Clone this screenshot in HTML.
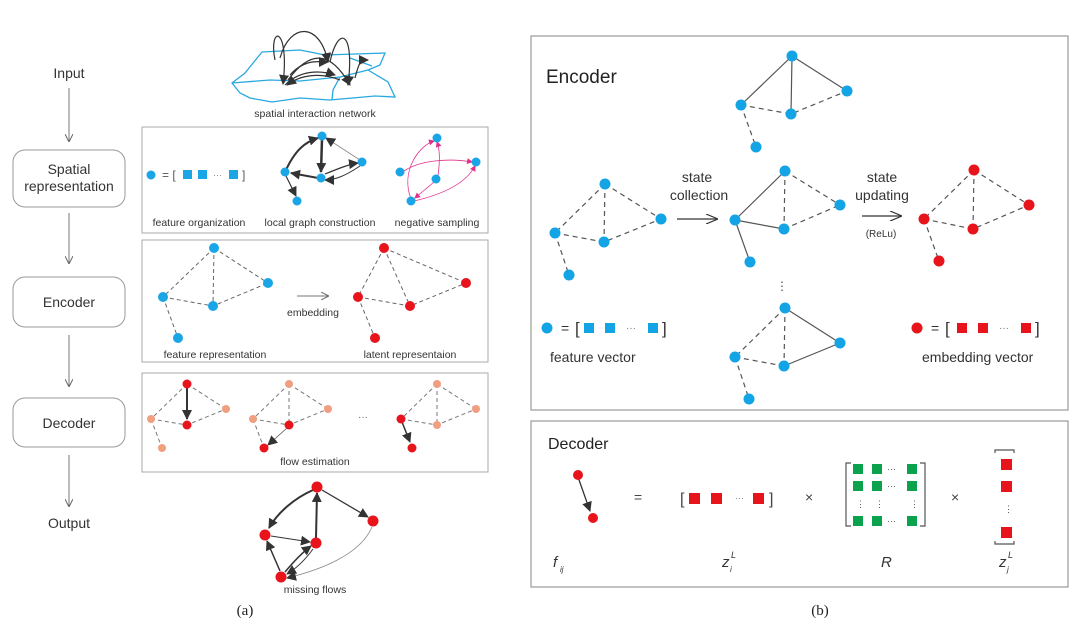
<!DOCTYPE html>
<html><head><meta charset="utf-8"><style>
html,body{margin:0;padding:0;background:#fff}
svg{display:block;font-family:"Liberation Sans",sans-serif}
</style></head><body>
<svg width="1080" height="630" viewBox="0 0 1080 630" xmlns="http://www.w3.org/2000/svg">
<defs>
<marker id="ag" markerWidth="8" markerHeight="8" refX="7" refY="4" orient="auto" markerUnits="userSpaceOnUse"><path d="M0,0 L8,4 L0,8" fill="none" stroke="#666" stroke-width="1"/></marker>
<marker id="ad" markerWidth="10" markerHeight="10" refX="9" refY="5" orient="auto" markerUnits="userSpaceOnUse"><path d="M0,0 L10,5 L0,10 Z" fill="#333"/></marker>
<marker id="ap" markerWidth="6" markerHeight="6" refX="5" refY="3" orient="auto" markerUnits="userSpaceOnUse"><path d="M0,0 L6,3 L0,6 Z" fill="#e0308a"/></marker>
<marker id="ao" markerWidth="12" markerHeight="10" refX="11" refY="5" orient="auto" markerUnits="userSpaceOnUse"><path d="M0,0 L12,5 L0,10" fill="none" stroke="#333" stroke-width="1.2"/></marker>
</defs>
<!-- left flow -->
<g font-size="14" fill="#333" text-anchor="middle">
<text x="69" y="78">Input</text>
<text x="69" y="528">Output</text>
<rect x="13" y="150" width="112" height="57" rx="12" fill="none" stroke="#999"/>
<text x="69" y="174">Spatial</text><text x="69" y="191">representation</text>
<rect x="13" y="277" width="112" height="50" rx="12" fill="none" stroke="#999"/>
<text x="69" y="307">Encoder</text>
<rect x="13" y="398" width="112" height="49" rx="12" fill="none" stroke="#999"/>
<text x="69" y="428">Decoder</text>
</g>
<g stroke="#777" stroke-width="1" marker-end="url(#ag)">
<line x1="69" y1="88" x2="69" y2="141"/><line x1="69" y1="213" x2="69" y2="263"/>
<line x1="69" y1="335" x2="69" y2="386"/><line x1="69" y1="455" x2="69" y2="506"/>
</g>
<!-- spatial interaction network -->
<g fill="none" stroke="#29a8e0" stroke-width="1.3">
<path d="M262,52 L300,50 L325,55 L385,53 L380,65 L368,70 L388,82 L395,97 L375,96 L330,100 L300,98 L272,102 L250,98 L240,93 L232,83 L245,73 Z"/>
<path d="M232,83 L270,80 L300,81 L340,77 L368,70"/>
<path d="M340,77 L333,90 L332,100"/>
<path d="M350,58 L372,66"/>
</g>
<g fill="none" stroke="#333" stroke-width="1.2" marker-end="url(#ad)">
<path d="M275,60 C268,25 290,25 283,84"/>
<path d="M280,58 C290,22 320,22 328,62"/>
<path d="M330,62 C338,25 355,30 348,85"/>
<path d="M288,80 C310,50 330,50 350,85"/>
<path d="M285,85 C300,70 320,70 335,75"/>
<path d="M290,75 C305,58 320,62 328,62"/>
<path d="M355,78 C360,58 362,60 368,60"/>
<path d="M340,80 C320,72 300,75 287,85"/>
</g>
<text x="315" y="117" font-size="10.5" fill="#333" text-anchor="middle">spatial interaction network</text>
<!-- panel 1 -->
<rect x="142" y="127" width="346" height="106" fill="none" stroke="#aaa"/>
<circle cx="151" cy="175" r="4.5" fill="#1aa6e6"/>
<text x="162" y="179" font-size="12" fill="#555">=  [</text>
<g fill="#1aa6e6"><rect x="183" y="170" width="9" height="9"/><rect x="198" y="170" width="9" height="9"/><rect x="229" y="170" width="9" height="9"/></g>
<text x="213" y="178" font-size="9" fill="#888">···</text><text x="242" y="179" font-size="12" fill="#555">]</text>
<g stroke="#333" fill="none" marker-end="url(#ad)">
<path d="M285,172 C295,150 305,142 318,138" stroke-width="2"/>
<line x1="322" y1="139" x2="321" y2="172" stroke-width="2.5"/>
<line x1="318" y1="178" x2="291" y2="173" stroke-width="2"/>
<line x1="286" y1="176" x2="296" y2="196" stroke-width="1.2"/>
<path d="M325,174 C340,168 350,164 358,163" stroke-width="1.2"/>
<path d="M360,166 C345,176 335,180 325,180" stroke-width="1"/>
<line x1="360" y1="160" x2="326" y2="138" stroke="#888" stroke-width="0.8"/>
</g>
<g fill="#1aa6e6"><circle cx="322" cy="136" r="4.5"/><circle cx="285" cy="172" r="4.5"/><circle cx="362" cy="162" r="4.5"/><circle cx="321" cy="178" r="4.5"/><circle cx="297" cy="201" r="4.5"/></g>
<g stroke="#e0308a" stroke-width="0.8" fill="none" marker-end="url(#ap)">
<path d="M411,199 C400,170 420,145 434,141"/><path d="M438,176 C440,160 440,150 437,142"/>
<path d="M404,171 C420,160 450,158 472,162"/><path d="M414,201 C440,195 465,185 475,166"/>
<path d="M434,182 L415,198"/>
</g>
<g fill="#1aa6e6"><circle cx="437" cy="138" r="4.5"/><circle cx="400" cy="172" r="4.5"/><circle cx="476" cy="162" r="4.5"/><circle cx="436" cy="179" r="4.5"/><circle cx="411" cy="201" r="4.5"/></g>
<g font-size="10.5" fill="#333" text-anchor="middle"><text x="199" y="226">feature organization</text><text x="320" y="226">local graph construction</text><text x="437" y="226">negative sampling</text></g>
<!-- panel 2 -->
<rect x="142" y="240" width="346" height="122" fill="none" stroke="#aaa"/>
<g stroke="#666" stroke-dasharray="4,3" fill="none">
<path d="M214,248 L163,297 M214,248 L268,283 M214,248 L213,306 M163,297 L213,306 L268,283 M163,297 L178,338"/>
<path d="M384,248 L358,297 M384,248 L466,283 M384,248 L410,306 M358,297 L410,306 L466,283 M358,297 L375,338"/>
</g>
<g fill="#1aa6e6"><circle cx="214" cy="248" r="5"/><circle cx="163" cy="297" r="5"/><circle cx="268" cy="283" r="5"/><circle cx="213" cy="306" r="5"/><circle cx="178" cy="338" r="5"/></g>
<g fill="#e8141c"><circle cx="384" cy="248" r="5"/><circle cx="358" cy="297" r="5"/><circle cx="466" cy="283" r="5"/><circle cx="410" cy="306" r="5"/><circle cx="375" cy="338" r="5"/></g>
<line x1="297" y1="296" x2="328" y2="296" stroke="#777" marker-end="url(#ag)"/>
<g font-size="10.5" fill="#333" text-anchor="middle"><text x="313" y="316">embedding</text><text x="215" y="358">feature representation</text><text x="410" y="358">latent representaion</text></g>
<!-- panel 3 -->
<rect x="142" y="373" width="346" height="99" fill="none" stroke="#aaa"/>
<g stroke="#777" stroke-dasharray="4,3" fill="none">
<path d="M187,384 L151,419 M187,384 L226,409 M151,419 L187,425 L226,409 M151,419 L162,448"/>
<path d="M289,384 L253,419 M289,384 L328,409 M289,384 L289,425 M253,419 L289,425 L328,409 M253,419 L264,448"/>
<path d="M437,384 L401,419 M437,384 L476,409 M437,384 L437,425 M401,419 L437,425 L476,409"/>
</g>
<line x1="187" y1="387" x2="187" y2="419" stroke="#333" stroke-width="2" marker-end="url(#ad)"/>
<line x1="287" y1="428" x2="268" y2="445" stroke="#555" stroke-width="0.8" marker-end="url(#ad)"/>
<line x1="402" y1="422" x2="410" y2="442" stroke="#333" stroke-width="1.5" marker-end="url(#ad)"/>
<g fill="#f0a080"><circle cx="151" cy="419" r="4"/><circle cx="226" cy="409" r="4"/><circle cx="162" cy="448" r="4"/><circle cx="289" cy="384" r="4"/><circle cx="253" cy="419" r="4"/><circle cx="328" cy="409" r="4"/><circle cx="437" cy="384" r="4"/><circle cx="476" cy="409" r="4"/><circle cx="437" cy="425" r="4"/></g>
<g fill="#e8141c"><circle cx="187" cy="384" r="4.5"/><circle cx="187" cy="425" r="4.5"/><circle cx="289" cy="425" r="4.5"/><circle cx="264" cy="448" r="4.5"/><circle cx="401" cy="419" r="4.5"/><circle cx="412" cy="448" r="4.5"/></g>
<text x="363" y="420" font-size="10" fill="#666" text-anchor="middle">···</text>
<text x="315" y="465" font-size="10.5" fill="#333" text-anchor="middle">flow estimation</text>
<!-- missing flows -->
<g stroke="#333" fill="none" marker-end="url(#ad)">
<path d="M313,490 C295,498 278,512 269,528" stroke-width="2"/>
<line x1="316" y1="538" x2="317" y2="493" stroke-width="2"/>
<line x1="322" y1="490" x2="368" y2="517" stroke-width="1.3"/>
<line x1="271" y1="536" x2="310" y2="542" stroke-width="1"/>
<line x1="280" y1="571" x2="267" y2="541" stroke-width="1.5"/>
<path d="M285,572 C295,560 303,552 311,546" stroke-width="1.5"/>
<path d="M313,549 C305,560 297,568 287,574" stroke-width="1"/>
<path d="M372,527 C360,555 320,570 287,578" stroke="#888" stroke-width="0.8"/>
</g>
<g fill="#e8141c"><circle cx="317" cy="487" r="5.5"/><circle cx="265" cy="535" r="5.5"/><circle cx="373" cy="521" r="5.5"/><circle cx="316" cy="543" r="5.5"/><circle cx="281" cy="577" r="5.5"/></g>
<text x="315" y="593" font-size="10.5" fill="#333" text-anchor="middle">missing flows</text>
<text x="245" y="615" font-size="15" font-family="Liberation Serif,serif" fill="#222" text-anchor="middle">(a)</text>
<text x="820" y="615" font-size="15" font-family="Liberation Serif,serif" fill="#222" text-anchor="middle">(b)</text>
<!-- Encoder box -->
<rect x="531" y="36" width="537" height="374" fill="none" stroke="#999" stroke-width="1.2"/>
<text x="546" y="83" font-size="19" fill="#222">Encoder</text>
<g stroke="#555" stroke-width="1.2" fill="none">
<path d="M792,56 L741,105 M792,56 L791,114 M792,56 L847,91"/>
<path d="M741,105 L791,114 L847,91 M741,105 L756,147" stroke-dasharray="5,4"/>
<path d="M605,184 L555,233 M605,184 L661,219 M605,184 L604,242 M555,233 L604,242 L661,219 M555,233 L569,275" stroke-dasharray="5,4"/>
<path d="M785,171 L735,220 M735,220 L784,229 M735,220 L750,262"/>
<path d="M785,171 L784,229 M785,171 L840,205 M784,229 L840,205" stroke-dasharray="5,4"/>
<path d="M974,170 L924,219 M974,170 L1029,205 M974,170 L973,229 M924,219 L973,229 L1029,205 M924,219 L939,261" stroke-dasharray="5,4"/>
<path d="M785,308 L840,343 M784,366 L840,343"/>
<path d="M785,308 L735,357 M785,308 L784,366 M735,357 L784,366 M735,357 L749,399" stroke-dasharray="5,4"/>
</g>
<g fill="#13a4e6">
<circle cx="792" cy="56" r="5.5"/><circle cx="741" cy="105" r="5.5"/><circle cx="847" cy="91" r="5.5"/><circle cx="791" cy="114" r="5.5"/><circle cx="756" cy="147" r="5.5"/>
<circle cx="605" cy="184" r="5.5"/><circle cx="555" cy="233" r="5.5"/><circle cx="661" cy="219" r="5.5"/><circle cx="604" cy="242" r="5.5"/><circle cx="569" cy="275" r="5.5"/>
<circle cx="785" cy="171" r="5.5"/><circle cx="735" cy="220" r="5.5"/><circle cx="840" cy="205" r="5.5"/><circle cx="784" cy="229" r="5.5"/><circle cx="750" cy="262" r="5.5"/>
<circle cx="785" cy="308" r="5.5"/><circle cx="735" cy="357" r="5.5"/><circle cx="840" cy="343" r="5.5"/><circle cx="784" cy="366" r="5.5"/><circle cx="749" cy="399" r="5.5"/>
<circle cx="547" cy="328" r="5.5"/>
<rect x="584" y="323" width="10" height="10"/><rect x="605" y="323" width="10" height="10"/><rect x="648" y="323" width="10" height="10"/>
</g>
<g fill="#e8141c">
<circle cx="974" cy="170" r="5.5"/><circle cx="924" cy="219" r="5.5"/><circle cx="1029" cy="205" r="5.5"/><circle cx="973" cy="229" r="5.5"/><circle cx="939" cy="261" r="5.5"/>
<circle cx="917" cy="328" r="5.5"/>
<rect x="957" y="323" width="10" height="10"/><rect x="978" y="323" width="10" height="10"/><rect x="1021" y="323" width="10" height="10"/>
</g>
<g font-size="14" fill="#333">
<text x="561" y="333">=</text><text x="575" y="334" font-size="17">[</text><text x="662" y="334" font-size="17">]</text>
<text x="626" y="331" font-size="10" fill="#777">···</text>
<text x="931" y="333">=</text><text x="945" y="334" font-size="17">[</text><text x="1035" y="334" font-size="17">]</text>
<text x="999" y="331" font-size="10" fill="#777">···</text>
<text x="550" y="362">feature vector</text>
<text x="922" y="362">embedding vector</text>
<g text-anchor="middle"><text x="697" y="182">state</text><text x="699" y="200">collection</text>
<text x="882" y="182">state</text><text x="882" y="200">updating</text>
<text x="881" y="237" font-size="10">(ReLu)</text></g>
</g>
<text x="782" y="290" font-size="12" fill="#555" text-anchor="middle">⋮</text>
<line x1="677" y1="219" x2="717" y2="219" stroke="#333" stroke-width="1.2" marker-end="url(#ao)"/>
<line x1="862" y1="216" x2="901" y2="216" stroke="#333" stroke-width="1.2" marker-end="url(#ao)"/>
<!-- Decoder box -->
<rect x="531" y="421" width="537" height="166" fill="none" stroke="#999" stroke-width="1.2"/>
<text x="548" y="449" font-size="16" fill="#222">Decoder</text>
<line x1="578" y1="477" x2="590" y2="511" stroke="#333" stroke-width="1.3" marker-end="url(#ad)"/>
<circle cx="578" cy="475" r="5" fill="#e8141c"/><circle cx="593" cy="518" r="5" fill="#e8141c"/>
<g font-size="14" fill="#444">
<text x="634" y="502">=</text><text x="805" y="502">×</text><text x="951" y="502">×</text>
<text x="680" y="504" font-size="16">[</text><text x="769" y="504" font-size="16">]</text>
</g>
<g fill="#e8141c"><rect x="689" y="493" width="11" height="11"/><rect x="711" y="493" width="11" height="11"/><rect x="753" y="493" width="11" height="11"/>
<rect x="1001" y="459" width="11" height="11"/><rect x="1001" y="481" width="11" height="11"/><rect x="1001" y="527" width="11" height="11"/></g>
<text x="735" y="501" font-size="9" fill="#777">···</text>
<g fill="#0aa24c">
<rect x="853" y="464" width="10" height="10"/><rect x="872" y="464" width="10" height="10"/><rect x="907" y="464" width="10" height="10"/>
<rect x="853" y="481" width="10" height="10"/><rect x="872" y="481" width="10" height="10"/><rect x="907" y="481" width="10" height="10"/>
<rect x="853" y="516" width="10" height="10"/><rect x="872" y="516" width="10" height="10"/><rect x="907" y="516" width="10" height="10"/>
</g>
<g font-size="9" fill="#555"><text x="887" y="472">···</text><text x="887" y="489">···</text><text x="887" y="524">···</text>
<text x="856" y="507">⋮</text><text x="875" y="507">⋮</text><text x="910" y="507">⋮</text><text x="1004" y="512">⋮</text></g>
<g stroke="#555" fill="none" stroke-width="1.2">
<path d="M851,463 L846,463 L846,526 L851,526"/><path d="M920,463 L925,463 L925,526 L920,526"/>
<path d="M995,453 L995,450 L1014,450 L1014,453"/><path d="M995,541 L995,544 L1014,544 L1014,541"/>
</g>
<g font-family="Liberation Sans,sans-serif" font-style="italic" fill="#333">
<text x="553" y="567" font-size="15">f</text><text x="560" y="572" font-size="8">ij</text>
<text x="722" y="567" font-size="15">z</text><text x="730" y="572" font-size="8">i</text><text x="731" y="558" font-size="9">L</text>
<text x="881" y="567" font-size="15">R</text>
<text x="999" y="567" font-size="15">z</text><text x="1007" y="572" font-size="8">j</text><text x="1008" y="558" font-size="9">L</text>
</g>
</svg>
</body></html>
